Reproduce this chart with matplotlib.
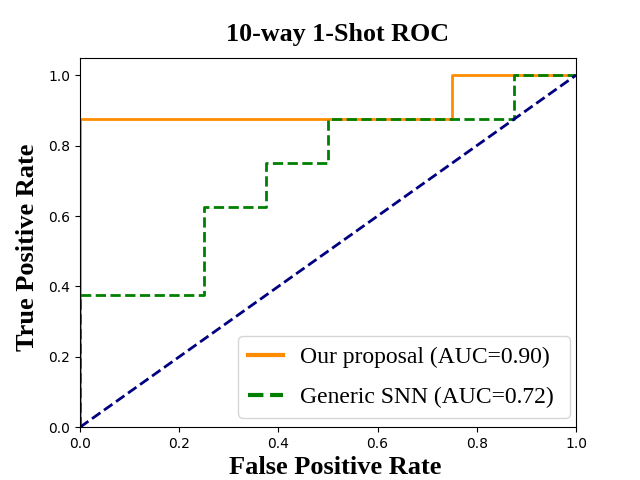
import matplotlib
matplotlib.use("Agg")
import matplotlib.pyplot as plt

ours_fpr = [0.0, 0.0, 0.75, 0.75, 1.0]
ours_tpr = [0.0, 0.875, 0.875, 1.0, 1.0]
snn_fpr = [0.0, 0.0, 0.25, 0.25, 0.375, 0.375, 0.5, 0.5, 0.875, 0.875, 1.0]
snn_tpr = [0.0, 0.375, 0.375, 0.625, 0.625, 0.75, 0.75, 0.875, 0.875, 1.0, 1.0]
ours_auc = 0.90
snn_auc = 0.72

serif = ['Liberation Serif', 'DejaVu Serif']

fig, ax = plt.subplots(figsize=(6.4, 4.8), dpi=100)
ax.plot(ours_fpr, ours_tpr, color='darkorange', lw=2, label=f'Our proposal (AUC={ours_auc:.2f})')
ax.plot(snn_fpr, snn_tpr, color='green', lw=2, linestyle='--', label=f'Generic SNN (AUC={snn_auc:.2f})')
ax.plot([0, 1], [0, 1], color='navy', lw=2, linestyle='--')
ax.set_xlim(0.0, 1.0)
ax.set_ylim(0.0, 1.05)
ax.set_xlabel('False Positive Rate', family=serif, fontsize=19, fontweight='bold')
ax.set_ylabel('True Positive Rate', family=serif, fontsize=19, fontweight='bold', labelpad=7)
ax.set_title('10-way 1-Shot ROC', family=serif, fontsize=18.7, fontweight='bold', pad=12)
ax.xaxis.label.set_x(0.514)
ax.yaxis.label.set_y(0.486)
ax.title.set_x(0.519)
leg = ax.legend(loc='lower right', prop={'family': serif, 'size': 17},
                bbox_to_anchor=(0.3185, 0.0244, 0.6694, 0.3), mode='expand',
                borderaxespad=0, borderpad=0.42, handlelength=1.5,
                handletextpad=0.7, labelspacing=0.8)
for h in leg.get_lines():
    h.set_linewidth(3)
fig.savefig('out.png')
